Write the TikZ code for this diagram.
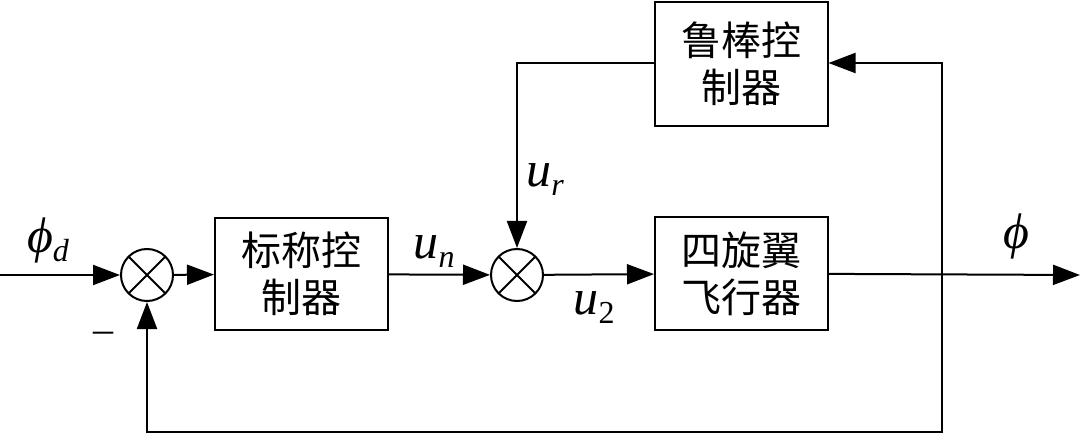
\documentclass[tikz,border=0pt]{standalone}
\usepackage{fontspec}
\newfontfamily\cjk{Noto Sans CJK SC}
\newfontfamily\tnr{Liberation Serif}
\usetikzlibrary{arrows.meta}
\begin{document}
\begin{tikzpicture}[x=1pt,y=-1pt,
  line width=2pt,
  >={Triangle[length=27pt,width=20pt]},
  blk/.style={draw, minimum width=173pt, minimum height=112pt, inner sep=0pt,
    align=center, font=\fontsize{40}{47}\selectfont\cjk},
  sumc/.style={draw, circle, minimum size=52pt, inner sep=0pt,
    path picture={\draw[line width=2pt]
      (path picture bounding box.south west) -- (path picture bounding box.north east)
      (path picture bounding box.north west) -- (path picture bounding box.south east);}},
  lab/.style={font=\fontsize{50}{50}\selectfont\tnr\itshape, inner sep=0pt}
]
\useasboundingbox (0,0) rectangle (1080,433);
\node[sumc] (s1) at (147,275) {};
\node[sumc] (s2) at (517,275) {};
\node[blk] (nom) at (301.5,274) {标称控\\制器};
\node[blk] (quad) at (741.5,273.5) {四旋翼\\飞行器};
\node[blk, minimum height=124pt] (rob) at (741,64) {鲁棒控\\制器};
\coordinate (in) at (0,275);
\coordinate (out) at (1080,275);
\coordinate (tap) at (942,275);
\coordinate (tr) at (942,63);
\coordinate (br) at (942,432);
\coordinate (bl) at (147,432);
\coordinate (tl) at (517,63);
\draw[->] (in) -- (s1);
\draw[->] (s1) -- (nom);
\draw[->] (nom) -- (s2);
\draw[->] (s2) -- (quad);
\draw[->] (quad) -- (out);
\draw[->] (tap) -- (tr) -- (rob.east |- tr);
\draw[->] (tap) -- (br) -- (bl) -- (s1);
\draw[->] (rob.west |- tl) -- (tl) -- (s2);
\node[lab] (phid) at (48,240) {ϕ\raisebox{-9pt}{\fontsize{32}{32}\selectfont d}};
\node[lab] (phi) at (1016,236) {ϕ};
\node[lab] (un) at (434,252) {u\raisebox{-9pt}{\fontsize{32}{32}\selectfont n}};
\node[lab] (ur) at (545,180) {u\raisebox{-9pt}{\fontsize{32}{32}\selectfont r}};
\node[lab] (u2) at (594,308) {u\raisebox{-9pt}{\fontsize{32}{32}\selectfont\upshape 2}};
\node[font=\fontsize{40}{40}\selectfont\tnr, inner sep=0pt] (minus) at (103,337) {–};
\end{tikzpicture}
\end{document}
